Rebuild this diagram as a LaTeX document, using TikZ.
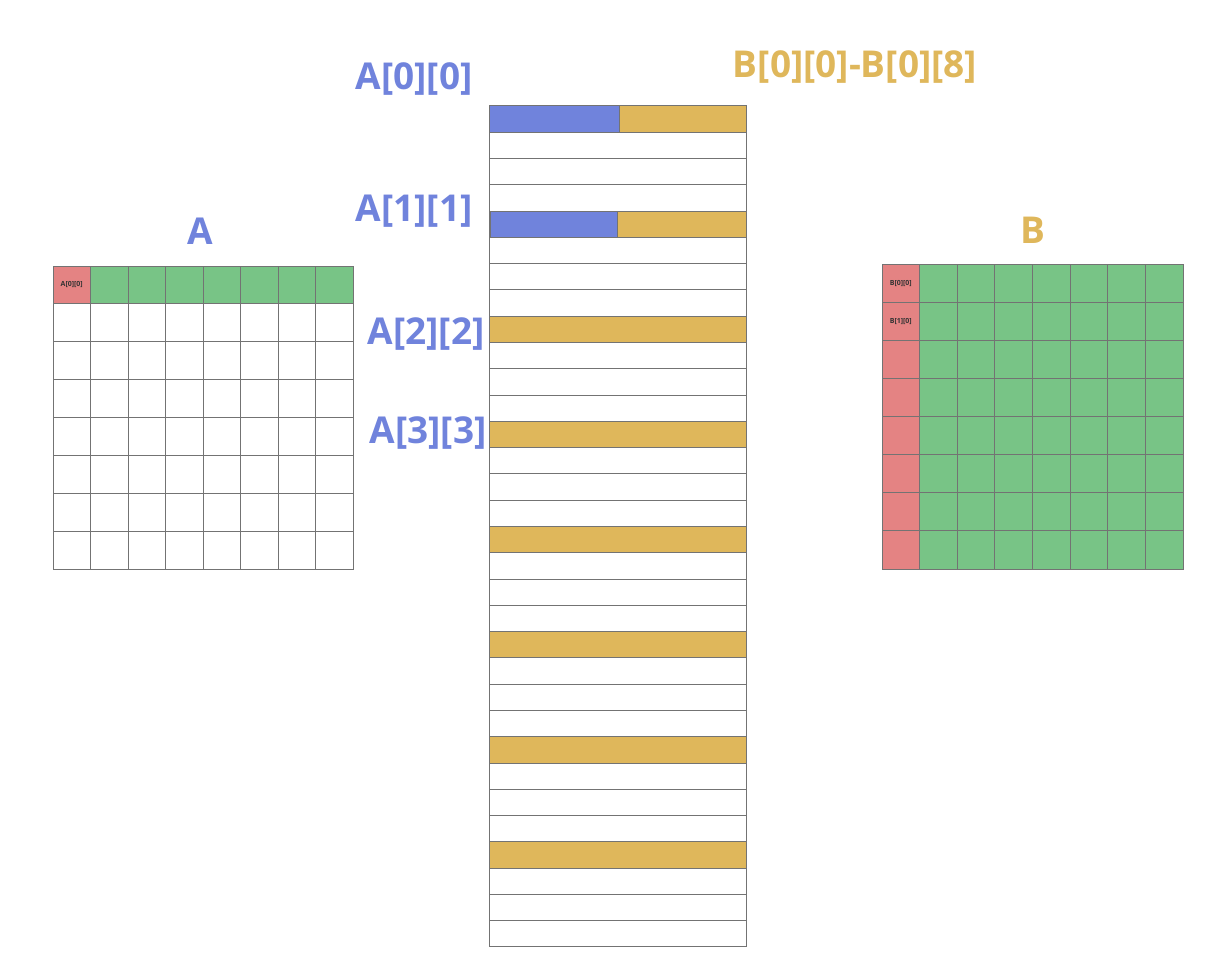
\documentclass[tikz,border=0pt]{standalone}
\usepackage{fontspec}
\setmainfont{Open Sans}
\definecolor{lblue}{RGB}{112,131,220}
\definecolor{lyell}{RGB}{223,183,91}
\definecolor{lgreen}{RGB}{120,196,134}
\definecolor{lred}{RGB}{228,131,131}
\definecolor{lgray}{RGB}{115,115,115}
\tikzset{
  cell/.style={draw=lgray, line width=1pt, anchor=north west, inner sep=0pt, outer sep=0pt, minimum width=#1},
  cell/.default=37.5pt,
  big/.style={font=\fontsize{37}{42}\selectfont\bfseries, inner sep=0pt},
  tiny/.style={font=\fontsize{7}{8}\selectfont\bfseries, text=black!80}
}
\begin{document}
\begin{tikzpicture}[x=1pt,y=-1pt]
\useasboundingbox (0,0) rectangle (1224,971);
% matrix A
\foreach \r in {0,...,7}{
  \foreach \c in {0,...,7}{
    \pgfmathsetmacro{\xx}{53+37.5*\c}
    \pgfmathsetmacro{\yy}{266+37.875*\r}
    \ifnum\r=0
      \ifnum\c=0
        \node[cell, fill=lred, minimum height=37.875pt] (a\r\c) at (\xx,\yy) {};
      \else
        \node[cell, fill=lgreen, minimum height=37.875pt] (a\r\c) at (\xx,\yy) {};
      \fi
    \else
      \node[cell, fill=white, minimum height=37.875pt] (a\r\c) at (\xx,\yy) {};
    \fi
  }
}
\node[tiny] at (a00.center) {A[0][0]};
% matrix B
\foreach \r in {0,...,7}{
  \foreach \c in {0,...,7}{
    \pgfmathsetmacro{\xx}{882+37.625*\c}
    \pgfmathsetmacro{\yy}{264+38.125*\r}
    \ifnum\c=0
      \node[cell=37.625pt, fill=lred, minimum height=38.125pt] (b\r\c) at (\xx,\yy) {};
    \else
      \node[cell=37.625pt, fill=lgreen, minimum height=38.125pt] (b\r\c) at (\xx,\yy) {};
    \fi
  }
}
\node[tiny] at (b00.center) {B[0][0]};
\node[tiny] at (b10.center) {B[1][0]};
% memory strip
\foreach \i in {0,...,31}{
  \pgfmathsetmacro{\yy}{106+26.28*\i}
  \pgfmathtruncatemacro{\m}{mod(\i,4)}
  \ifnum\m=0
    \node[cell=257pt, fill=lyell, minimum height=26.28pt] (s\i) at (489,\yy) {};
  \else
    \node[cell=257pt, fill=white, minimum height=26.28pt] (s\i) at (489,\yy) {};
  \fi
}
\node[cell=130pt, fill=lblue, minimum height=26.28pt] (p0) at (s0.north west) {};
\node[cell=127pt, fill=lblue, minimum height=26.28pt] (p4) at ([xshift=1pt]s4.north west) {};
% labels
\node[big, text=lblue] (la) at (200,231) {A};
\node[big, text=lyell] (lb) at (1033,230) {B};
\node[big, text=lblue] (l00) at (414,79) {A[0][0]};
\node[big, text=lblue] (l11) at (414,211) {A[1][1]};
\node[big, text=lblue] (l22) at (426,334) {A[2][2]};
\node[big, text=lblue] (l33) at (428,433) {A[3][3]};
\node[big, text=lyell] (lbb) at (855,67) {B[0][0]-B[0][8]};
\end{tikzpicture}
\end{document}
